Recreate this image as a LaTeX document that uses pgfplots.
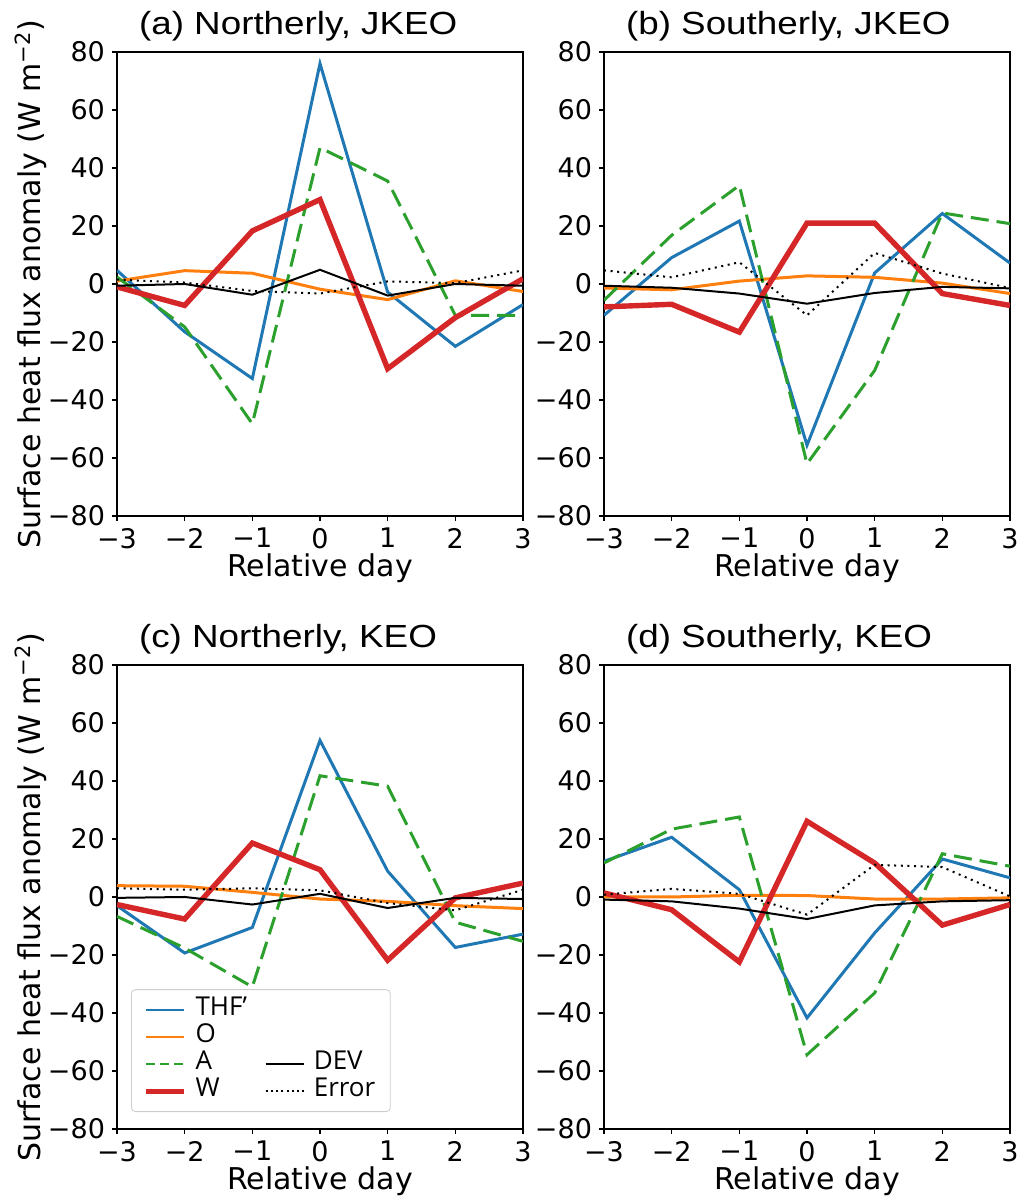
\documentclass[border=0pt]{standalone}
\usepackage{fontspec}
\setmainfont{DejaVu Sans}
\newfontfamily\titlefont[FakeStretch=1.15]{Liberation Sans}
\newfontfamily\legfont{Open Sans}
\usepackage{pgfplots}
\pgfplotsset{compat=1.18}
\definecolor{cB}{HTML}{1F77B4}
\definecolor{cO}{HTML}{FF7F0E}
\definecolor{cG}{HTML}{2CA02C}
\definecolor{cR}{HTML}{D62728}
\pgfplotsset{
  panel/.style={
    scale only axis, width=203pt, height=232pt,
    xmin=-3, xmax=3, ymin=-80, ymax=80,
    xtick={-3,-2,-1,0,1,2,3}, xticklabels={−3,−2,−1,0,1,2,3},
    ytick={-80,-60,-40,-20,0,20,40,60,80},
    yticklabels={−80,−60,−40,−20,0,20,40,60,80},
    xtick pos=bottom, ytick pos=left,
    tick align=outside, major tick length=2.5pt,
    tick style={black, line width=0.6pt},
    axis line style={line width=0.6pt},
    ticklabel style={font=\fontsize{13.5}{16}\selectfont},
    xlabel={Relative day},
    xlabel style={font=\fontsize{15}{18}\selectfont, at={(axis description cs:0.5,0)}, anchor=base, yshift=-30.5pt},
    title style={font=\titlefont\fontsize{16}{19}\selectfont, at={(axis description cs:0,1)}, anchor=base west, xshift=7.5pt, yshift=2.5pt},
  },
  leftpanel/.style={
    ylabel={Surface heat flux anomaly (W m\textsuperscript{−2})},
    ylabel style={font=\fontsize{15}{18}\selectfont, at={(axis description cs:-0.212,0.5)}, anchor=center},
  },
  thf/.style={cB, line width=1.5pt},
  oo/.style={cO, line width=1.5pt},
  aa/.style={cG, line width=1.5pt, dash pattern=on 9pt off 4pt},
  ww/.style={cR, line width=2.7pt},
  dev/.style={black, line width=1pt},
  err/.style={black, line width=1pt, dash pattern=on 1pt off 2.3pt},
}
\begin{document}
\begin{tikzpicture}
\useasboundingbox (0,0) rectangle (512pt,598pt);
% (a)
\begin{axis}[panel, leftpanel, at={(58.5pt,340pt)}, anchor=south west, title={(a) Northerly, JKEO}]
\addplot[thf] coordinates {(-3,4.7) (-2,-16.5) (-1,-32.6) (0,76) (1,-2.8) (2,-21.5) (3,-7.1)};
\addplot[oo] coordinates {(-3,1.0) (-2,4.6) (-1,3.7) (0,-1.8) (1,-5.4) (2,1.1) (3,-2.6)};
\addplot[aa] coordinates {(-3,2.4) (-2,-14.8) (-1,-48.2) (0,47) (1,35.5) (2,-10.8) (3,-10.8)};
\addplot[ww] coordinates {(-3,-1) (-2,-7.4) (-1,18.3) (0,29.1) (1,-29.2) (2,-11.6) (3,1.8)};
\addplot[dev] coordinates {(-3,-0.6) (-2,0) (-1,-3.7) (0,4.9) (1,-4) (2,0) (3,-0.6)};
\addplot[err] coordinates {(-3,1.5) (-2,0.5) (-1,-2.4) (0,-3.3) (1,0.9) (2,0.3) (3,4.7)};
\end{axis}
% (b)
\begin{axis}[panel, at={(302pt,340pt)}, anchor=south west, title={(b) Southerly, JKEO}]
\addplot[thf] coordinates {(-3,-10.8) (-2,9.1) (-1,21.7) (0,-55.6) (1,3.8) (2,24.3) (3,7.2)};
\addplot[oo] coordinates {(-3,-1.4) (-2,-2) (-1,1) (0,2.8) (1,2.3) (2,0.3) (3,-3.3)};
\addplot[aa] coordinates {(-3,-5.6) (-2,16.8) (-1,34) (0,-62) (1,-29.8) (2,24.5) (3,20.8)};
\addplot[ww] coordinates {(-3,-7.9) (-2,-7) (-1,-16.6) (0,21) (1,21) (2,-3.3) (3,-7.4)};
\addplot[dev] coordinates {(-3,-0.6) (-2,-1.3) (-1,-3.3) (0,-6.8) (1,-3.1) (2,-1) (3,-1.5)};
\addplot[err] coordinates {(-3,4.7) (-2,2.3) (-1,7.5) (0,-10.8) (1,10.7) (2,3.6) (3,-1.4)};
\end{axis}
% (c)
\begin{axis}[panel, leftpanel, at={(58.5pt,33.5pt)}, anchor=south west, title={(c) Northerly, KEO},
  legend image code/.code={\draw[#1] (0pt,0pt) -- (19pt,0pt);},
  legend columns=2,
  legend cell align=left,
  legend style={at={(axis description cs:0.0345,0.0366)}, anchor=south west,
    draw=black!20, rounded corners=2pt, inner xsep=6pt, inner ysep=3.5pt,
    font=\legfont\fontsize{13}{15}\selectfont,
    nodes={inner sep=1.5pt, text height=8pt, text depth=2.5pt},
    row sep=0pt,
    /tikz/every odd column/.append style={column sep=3pt},
    /tikz/every even column/.append style={column sep=6pt}},
]
\addplot[thf, forget plot] coordinates {(-3,-3) (-2,-19.3) (-1,-10.5) (0,54) (1,8.9) (2,-17.4) (3,-12.8)};
\addplot[oo, forget plot] coordinates {(-3,3.9) (-2,3.7) (-1,1.6) (0,-0.7) (1,-1.5) (2,-3) (3,-4)};
\addplot[aa, forget plot] coordinates {(-3,-6.7) (-2,-17.6) (-1,-31) (0,41.8) (1,38.2) (2,-8.7) (3,-15.3)};
\addplot[ww, forget plot] coordinates {(-3,-2.6) (-2,-7.6) (-1,18.6) (0,9.4) (1,-21.8) (2,-0.3) (3,4.8)};
\addplot[dev, forget plot] coordinates {(-3,-0.3) (-2,0) (-1,-2.6) (0,1.1) (1,-3.8) (2,-0.3) (3,-0.7)};
\addplot[err, forget plot] coordinates {(-3,3) (-2,2.5) (-1,3) (0,2.3) (1,-2.1) (2,-4.6) (3,2.5)};
\addlegendimage{cB, line width=1.1pt}
\addlegendentry{\makebox[27pt][l]{THF’}}
\addlegendimage{empty legend}
\addlegendentry{}
\addlegendimage{cO, line width=1.1pt}
\addlegendentry{\makebox[27pt][l]{O}}
\addlegendimage{empty legend}
\addlegendentry{}
\addlegendimage{cG, line width=1.1pt, dash pattern=on 4.5pt off 2.5pt}
\addlegendentry{\makebox[27pt][l]{A}}
\addlegendimage{black, line width=1.1pt}
\addlegendentry{DEV}
\addlegendimage{cR, line width=2.6pt}
\addlegendentry{\makebox[27pt][l]{W}}
\addlegendimage{black, line width=1.1pt, dash pattern=on 1pt off 1.6pt}
\addlegendentry{Error}
\end{axis}
% (d)
\begin{axis}[panel, at={(302pt,33.5pt)}, anchor=south west, title={(d) Southerly, KEO}]
\addplot[thf] coordinates {(-3,12.3) (-2,20.6) (-1,2.5) (0,-41.7) (1,-12.4) (2,13.1) (3,6.6)};
\addplot[oo] coordinates {(-3,0) (-2,0) (-1,0.6) (0,0.5) (1,-0.7) (2,-0.7) (3,-0.3)};
\addplot[aa] coordinates {(-3,11.7) (-2,23.4) (-1,27.6) (0,-54.4) (1,-33.1) (2,14.9) (3,10.6)};
\addplot[ww] coordinates {(-3,1.4) (-2,-4.4) (-1,-22.4) (0,26.1) (1,11.7) (2,-9.7) (3,-2.6)};
\addplot[dev] coordinates {(-3,-0.9) (-2,-1.5) (-1,-4) (0,-7.6) (1,-2.9) (2,-1.5) (3,-1.1)};
\addplot[err] coordinates {(-3,0.8) (-2,2.8) (-1,1.1) (0,-6.1) (1,11.1) (2,10.3) (3,0.2)};
\end{axis}
\end{tikzpicture}
\end{document}
